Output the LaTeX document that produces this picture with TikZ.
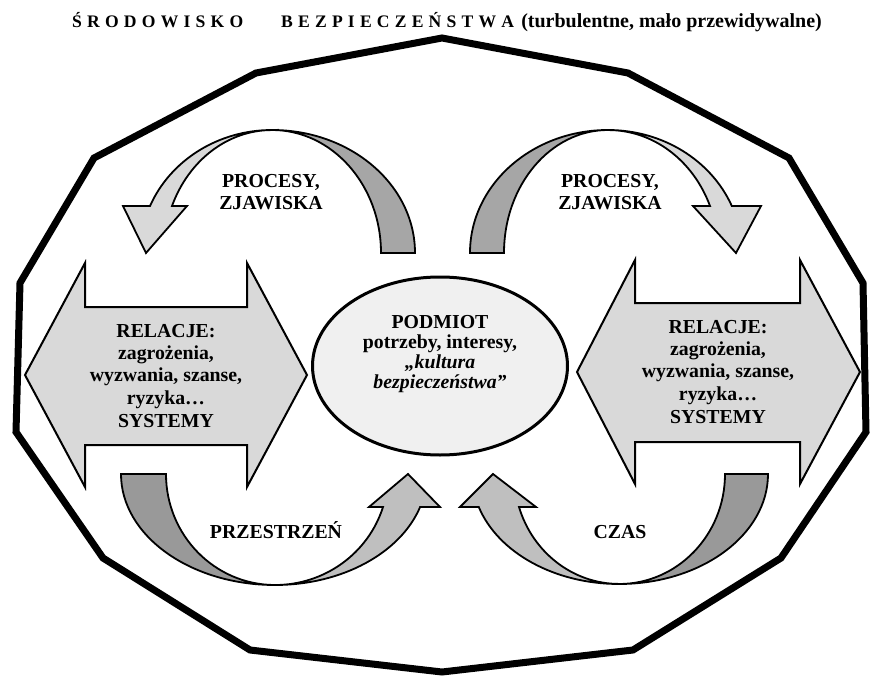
\documentclass[tikz,border=0pt]{standalone}
\usepackage{fontspec}
\setmainfont{Liberation Serif}
\newcommand{\lsp}{\kern5.2pt\relax}
\definecolor{lgA}{RGB}{217,217,217}
\definecolor{dgA}{RGB}{166,166,166}
\definecolor{lgB}{RGB}{191,191,191}
\definecolor{dgB}{RGB}{153,153,153}
\definecolor{ellf}{RGB}{240,240,240}
\definecolor{dblf}{RGB}{217,217,217}
\begin{document}
\begin{tikzpicture}[x=1pt,y=-1pt,
  txt/.style={font=\bfseries\fontsize{19.8}{22}\selectfont, inner sep=0pt, anchor=base},
  itxt/.style={font=\bfseries\itshape\fontsize{19.8}{22}\selectfont, inner sep=0pt, anchor=base},
  band/.style={draw=black, line width=1.8pt, line join=miter, miter limit=8},
  dblarrow/.style={draw=black, line width=2pt, fill=dblf, line join=miter, miter limit=8}]
\useasboundingbox (0,0) rectangle (871,677);

% outer polygon
\draw[line width=7pt, line join=miter, miter limit=10]
  (442,38) -- (628,73) -- (789,158) -- (863,283) -- (866,432) -- (781,558)
  -- (633,650) -- (442,672) -- (250,650) -- (103,558) -- (16,432) -- (20,283)
  -- (94,158) -- (256,73) -- cycle;

% title
\node[inner sep=0pt, anchor=base west] (title1) at (72,28)
  {\bfseries\fontsize{17.6}{20}\selectfont Ś\lsp R\lsp O\lsp D\lsp O\lsp W\lsp I\lsp S\lsp K\lsp O\kern38pt B\lsp E\lsp Z\lsp P\lsp I\lsp E\lsp C\lsp Z\lsp E\lsp Ń\lsp S\lsp T\lsp W\lsp A};
\node[inner sep=0pt, anchor=base east] (title2) at (822,28)
  {\bfseries\fontsize{20}{22}\selectfont (turbulentne, mało przewidywalne)};

% top-left curved arrow
\filldraw[band, fill=dgA] (272,130) arc[start angle=270, end angle=360, x radius=143, y radius=123]
  -- (381,253) arc[start angle=0, end angle=-90, x radius=109, y radius=123] -- cycle;
\filldraw[band, fill=lgA] (272,130) arc[start angle=270, end angle=202.5, x radius=132, y radius=123]
  -- (123,206) -- (146,253) -- (187,206) -- (172,206)
  arc[start angle=202.5, end angle=270, x radius=108, y radius=123] -- cycle;

% top-right curved arrow
\filldraw[band, fill=dgA] (608,130) arc[start angle=270, end angle=180, x radius=138, y radius=123]
  -- (504,253) arc[start angle=180, end angle=270, x radius=104, y radius=123] -- cycle;
\filldraw[band, fill=lgA] (608,130) arc[start angle=270, end angle=337.5, x radius=134, y radius=123]
  -- (761,206) -- (736,253) -- (693,206) -- (710,206)
  arc[start angle=337.5, end angle=270, x radius=110, y radius=123] -- cycle;

% bottom-left curved arrow
\filldraw[band, fill=dgB] (275,585) arc[start angle=90, end angle=180, x radius=154, y radius=111]
  -- (166,474) arc[start angle=180, end angle=90, x radius=109, y radius=111] -- cycle;
\filldraw[band, fill=lgB] (275,585) arc[start angle=90, end angle=17.3, x radius=152, y radius=111]
  -- (440,507) -- (408,474) -- (369,507) -- (383,507)
  arc[start angle=17.3, end angle=90, x radius=113, y radius=111] -- cycle;

% bottom-right curved arrow
\filldraw[band, fill=dgB] (619,584) arc[start angle=90, end angle=0, x radius=149, y radius=110]
  -- (725,474) arc[start angle=0, end angle=90, x radius=106, y radius=110] -- cycle;
\filldraw[band, fill=lgB] (619,584) arc[start angle=90, end angle=162.5, x radius=147, y radius=110]
  -- (460,507) -- (493,474) -- (536,507) -- (519,507)
  arc[start angle=162.5, end angle=90, x radius=105, y radius=110] -- cycle;

% double arrows
\filldraw[dblarrow] (25,375) -- (85,263) -- (85,307) -- (247,307) -- (247,263) -- (307,375)
  -- (247,487) -- (247,445) -- (85,445) -- (85,487) -- cycle;
\filldraw[dblarrow] (577,372) -- (635,260) -- (635,303) -- (800,303) -- (800,260) -- (860,372)
  -- (800,484) -- (800,442) -- (635,442) -- (635,484) -- cycle;

% central ellipse
\filldraw[draw=black, line width=3pt, fill=ellf] (440,366) ellipse [x radius=127.5, y radius=89];

% texts
\node[txt] (ptl1) at (271,187) {PROCESY,};
\node[txt] (ptl2) at (271,209) {ZJAWISKA};
\node[txt] (ptr1) at (610,187) {PROCESY,};
\node[txt] (ptr2) at (610,209) {ZJAWISKA};

\node[txt] (pm1) at (440,328) {PODMIOT};
\node[txt] (pm2) at (440,348) {potrzeby, interesy,};
\node[itxt] (pm3) at (440,368) {„kultura};
\node[itxt] (pm4) at (440,388) {bezpieczeństwa”};

\node[txt] (rl1) at (166,337) {RELACJE:};
\node[txt] (rl2) at (166,359) {zagrożenia,};
\node[txt] (rl3) at (166,381) {wyzwania, szanse,};
\node[txt] (rl4) at (166,404) {ryzyka…};
\node[txt] (rl5) at (166,427) {SYSTEMY};

\node[txt] (rr1) at (718,333) {RELACJE:};
\node[txt] (rr2) at (718,355) {zagrożenia,};
\node[txt] (rr3) at (718,377) {wyzwania, szanse,};
\node[txt] (rr4) at (718,400) {ryzyka…};
\node[txt] (rr5) at (718,423) {SYSTEMY};

\node[txt] (prz) at (276,538) {PRZESTRZEŃ};
\node[txt] (czas) at (620,538) {CZAS};
\end{tikzpicture}
\end{document}
